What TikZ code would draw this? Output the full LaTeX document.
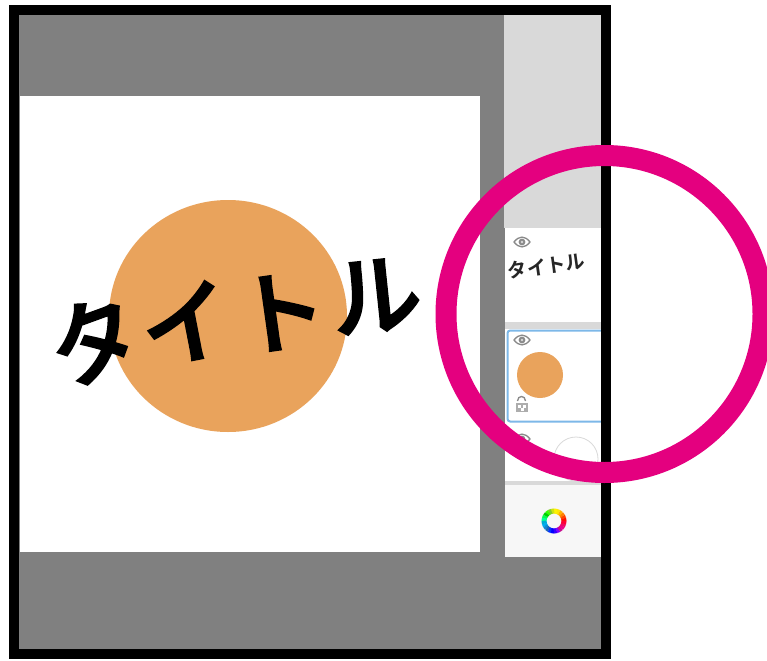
\documentclass[tikz,border=0pt]{standalone}
\usepackage{fontspec}
\newfontfamily\jpfont[RawFeature={embolden=2.2}]{Noto Sans CJK JP Medium}
\newfontfamily\jpsmall{Noto Sans CJK JP Bold}
\definecolor{ringpink}{HTML}{E4007F}
\definecolor{discorange}{HTML}{E9A35C}
\definecolor{canvasgray}{HTML}{808080}
\definecolor{panelgray}{HTML}{D9D9D9}
\definecolor{selblue}{HTML}{7DB8E8}
\definecolor{iconline}{HTML}{8A8A8A}
\tikzset{
  bigkana/.style={font=\jpfont\fontsize{68}{68}\selectfont,inner sep=0pt,text=black},
  smallkana/.style={font=\jpsmall\fontsize{14.6}{15}\selectfont,inner sep=0pt,text=black!85},
  eyeicon/.pic={
    \fill[white,draw=iconline,line width=1pt] (-8,0) .. controls (-3,-6.5) and (3,-6.5) .. (8,0) .. controls (3,6.5) and (-3,6.5) .. (-8,0) -- cycle;
    \fill[iconline] (0,0) circle[radius=3.4];
    \fill[white!85!black] (0,0) circle[radius=1.4];
  }
}
\begin{document}
\begin{tikzpicture}[x=0.75pt,y=-0.75pt]
\useasboundingbox (0,0) rectangle (767,660);
\fill[white] (0,0) rectangle (767,660);
% workspace
\fill[canvasgray] (14,10) rectangle (606,654);
\fill[white] (20,96) rectangle (480,552);
% side panel
\fill[panelgray] (504,15) rectangle (601,228);
\fill[white] (505,228) rectangle (601,322);
\fill[panelgray] (505,322) rectangle (601,329);
\fill[white] (505,329) rectangle (601,484);
\fill[panelgray] (505,481) rectangle (601,485);
\fill[white!97!black] (505,485) rectangle (601,557);
\draw[selblue,line width=1.5pt,rounded corners=2pt] (507.5,330.5) rectangle (606,421.5);
% artwork
\fill[discorange] (228,316) ellipse[x radius=119,y radius=116];
\node[bigkana,rotate=20] (kanaA) at (94,340) {タ};
\node[bigkana,rotate=11] (kanaB) at (186,323) {イ};
\node[bigkana,rotate=8] (kanaC) at (281,312) {ト};
\node[bigkana,rotate=6] (kanaD) at (376,296) {ル};
% layer thumbnails
\node[smallkana,rotate=8] (thumbtitle) at (546.5,266) {タイトル};
\pic at (522,242) {eyeicon};
\pic at (522,340) {eyeicon};
\pic at (522,439) {eyeicon};
\fill[discorange] (540,375) circle[radius=23];
\draw[white!85!black,line width=0.6pt] (576,459) circle[radius=22];
% lock icon
\draw[iconline,line width=1pt] (517.5,401) .. controls (517.5,395) and (525.5,395) .. (525.5,401);
\fill[iconline!70!white] (516,403) rectangle (528,412);
\fill[white] (518,405) rectangle (521,408);
\fill[white] (523,405) rectangle (526,408);
\fill[white] (520.5,408) rectangle (523.5,411);
% colour wheel
\foreach \a/\c in {
  0/red!90!orange, 15/red!50!orange, 30/orange, 45/orange!60!yellow, 60/yellow!90!orange, 75/yellow,
  90/yellow!80!green, 105/yellow!50!green, 120/green!80!yellow, 135/green!80!black, 150/green!70!cyan, 165/green!40!cyan,
  180/cyan!80!green, 195/cyan, 210/cyan!70!blue, 225/cyan!40!blue, 240/blue!80!cyan, 255/blue,
  270/blue!80!magenta, 285/blue!50!magenta, 300/magenta!80!blue, 315/magenta, 330/magenta!60!red, 345/red!80!magenta}{
  \pgfmathsetmacro{\sx}{554+10*cos(\a-1)}
  \pgfmathsetmacro{\sy}{521-10*sin(\a-1)}
  \pgfmathsetmacro{\ex}{554+10*cos(\a+16)}
  \pgfmathsetmacro{\ey}{521-10*sin(\a+16)}
  \draw[\c,line width=3.8pt] (\sx,\sy) -- (\ex,\ey);
}
% black frame
\draw[black,line width=7.5pt,line join=miter] (14,10) rectangle (606,654);
% highlight ring
\draw[ringpink,line width=15.75pt] (604.5,314) circle[radius=158.5];
\end{tikzpicture}
\end{document}
